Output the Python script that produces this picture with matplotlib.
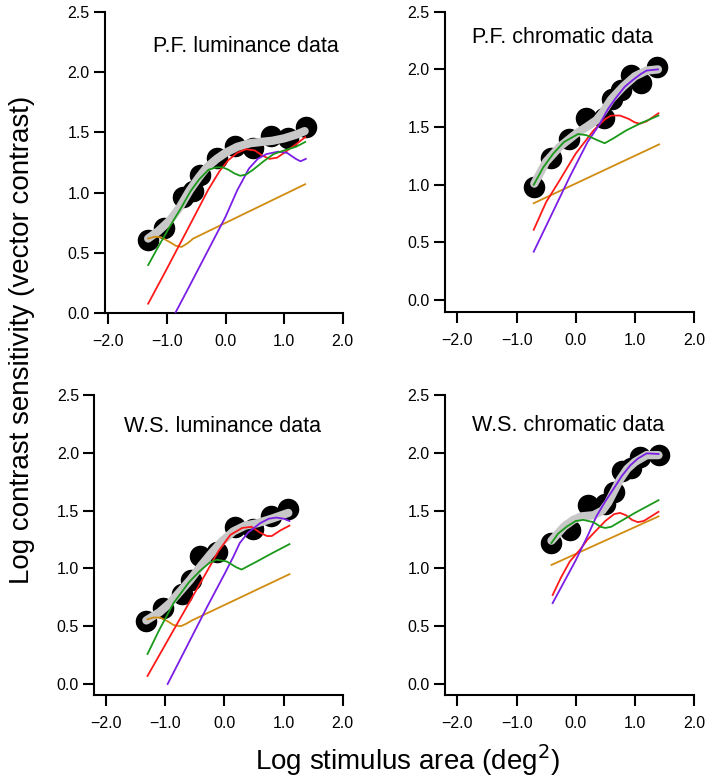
import matplotlib
matplotlib.use('Agg')
from matplotlib import pyplot as plt

plt.rcParams['font.family'] = ['Liberation Sans', 'DejaVu Sans']

# ---- P.F. luminance ----
pf_lum_x = [-1.33, -1.05, -0.72, -0.56, -0.435, -0.14, 0.16, 0.475, 0.77, 1.07, 1.37]
pf_lum_y = [0.61, 0.71, 0.96, 1.01, 1.146, 1.29, 1.386, 1.367, 1.469, 1.45, 1.546]
pf_lum_gray = ([-1.32, -1.15, -0.95, -0.78, -0.61, -0.45, -0.32, -0.15, 0.0, 0.2, 0.42, 0.6, 0.8, 1.0, 1.2, 1.35],
               [0.62, 0.68, 0.77, 0.88, 1.02, 1.13, 1.21, 1.28, 1.33, 1.38, 1.41, 1.42, 1.43, 1.45, 1.48, 1.51])
pf_lum_green = ([-1.32, -1.15, -0.95, -0.75, -0.6, -0.45, -0.29, -0.15, -0.05, 0.05, 0.15, 0.25, 0.35, 0.47, 0.65, 0.82, 1.0, 1.2, 1.36],
                [0.40, 0.55, 0.72, 0.88, 1.01, 1.11, 1.19, 1.21, 1.21, 1.19, 1.16, 1.14, 1.15, 1.19, 1.26, 1.32, 1.35, 1.38, 1.42])
pf_lum_red = ([-1.32, -1.0, -0.6, -0.3, -0.1, 0.05, 0.2, 0.35, 0.5, 0.62, 0.75, 0.88, 1.0, 1.2, 1.36],
              [0.08, 0.37, 0.74, 1.02, 1.18, 1.27, 1.33, 1.36, 1.35, 1.31, 1.28, 1.29, 1.33, 1.40, 1.46])
pf_lum_purple = ([-0.86, -0.6, -0.3, 0.0, 0.2, 0.4, 0.55, 0.7, 0.9, 1.05, 1.2, 1.28, 1.37],
                 [0.0, 0.24, 0.52, 0.80, 1.02, 1.20, 1.28, 1.32, 1.34, 1.33, 1.28, 1.26, 1.28])
pf_lum_orange = ([-1.32, -1.2, -1.1, -0.95, -0.85, -0.75, -0.65, -0.55, 1.36],
                 [0.62, 0.635, 0.63, 0.59, 0.56, 0.55, 0.58, 0.62, 1.07])

# ---- P.F. chromatic ----
pf_chr_x = [-0.71, -0.41, -0.12, 0.18, 0.47, 0.61, 0.76, 0.94, 1.11, 1.38]
pf_chr_y = [0.98, 1.23, 1.40, 1.58, 1.58, 1.74, 1.82, 1.95, 1.88, 2.02]
pf_chr_gray = ([-0.7, -0.5, -0.27, 0.0, 0.18, 0.35, 0.46, 0.6, 0.8, 1.0, 1.2, 1.39],
               [1.01, 1.2, 1.33, 1.44, 1.5, 1.56, 1.63, 1.74, 1.85, 1.94, 1.99, 2.0])
pf_chr_green = ([-0.71, -0.55, -0.38, -0.2, 0.04, 0.18, 0.35, 0.49, 0.63, 0.85, 1.085, 1.4],
                [1.0, 1.15, 1.27, 1.37, 1.44, 1.43, 1.39, 1.36, 1.40, 1.47, 1.53, 1.60])
pf_chr_red = ([-0.71, -0.5, -0.27, 0.0, 0.3, 0.5, 0.6, 0.75, 0.9, 1.0, 1.085, 1.2, 1.4],
              [0.61, 0.85, 1.04, 1.27, 1.47, 1.57, 1.60, 1.60, 1.57, 1.54, 1.53, 1.55, 1.62])
pf_chr_purple = ([-0.71, -0.4, -0.1, 0.2, 0.41, 0.55, 0.69, 0.83, 0.97, 1.1, 1.2, 1.39],
                 [0.42, 0.75, 1.07, 1.37, 1.53, 1.66, 1.76, 1.85, 1.91, 1.96, 1.99, 2.0])
pf_chr_orange = ([-0.71, 1.41], [0.84, 1.35])

# ---- W.S. luminance ----
ws_lum_x = [-1.32, -1.04, -0.72, -0.57, -0.41, -0.12, 0.18, 0.49, 0.79, 1.08]
ws_lum_y = [0.545, 0.655, 0.78, 0.90, 1.11, 1.145, 1.36, 1.34, 1.45, 1.515]
ws_lum_gray = ([-1.32, -1.1, -0.92, -0.75, -0.58, -0.4, -0.24, -0.05, 0.15, 0.35, 0.55, 0.8, 1.08],
               [0.55, 0.62, 0.70, 0.80, 0.90, 1.02, 1.12, 1.23, 1.32, 1.37, 1.39, 1.43, 1.48])
ws_lum_green = ([-1.30, -1.1, -0.86, -0.6, -0.41, -0.25, -0.13, 0.04, 0.2, 0.29, 0.4, 0.55, 0.8, 1.1],
                [0.26, 0.47, 0.70, 0.88, 0.98, 1.05, 1.075, 1.06, 1.01, 0.99, 1.02, 1.06, 1.13, 1.21])
ws_lum_red = ([-1.30, -1.0, -0.6, -0.3, -0.1, 0.1, 0.3, 0.46, 0.6, 0.72, 0.8, 0.95, 1.1],
              [0.07, 0.34, 0.70, 0.97, 1.15, 1.29, 1.35, 1.36, 1.31, 1.28, 1.28, 1.33, 1.37])
ws_lum_purple = ([-0.96, -0.6, -0.3, 0.0, 0.15, 0.26, 0.4, 0.6, 0.75, 0.88, 1.0, 1.1],
                 [0.0, 0.36, 0.66, 0.95, 1.10, 1.22, 1.31, 1.39, 1.43, 1.44, 1.43, 1.41])
ws_lum_orange = ([-1.30, -1.2, -1.09, -0.95, -0.86, -0.74, -0.65, -0.55, 1.1],
                 [0.56, 0.575, 0.575, 0.54, 0.51, 0.50, 0.52, 0.55, 0.95])

# ---- W.S. chromatic ----
ws_chr_x = [-0.41, -0.10, 0.20, 0.49, 0.64, 0.79, 0.93, 1.09, 1.40]
ws_chr_y = [1.22, 1.335, 1.545, 1.56, 1.665, 1.84, 1.87, 1.96, 1.98]
ws_chr_gray = ([-0.41, -0.2, -0.04, 0.1, 0.3, 0.45, 0.55, 0.65, 0.75, 0.87, 1.0, 1.2, 1.4],
               [1.24, 1.36, 1.42, 1.45, 1.46, 1.50, 1.57, 1.67, 1.77, 1.86, 1.92, 1.98, 1.98])
ws_chr_green = ([-0.41, -0.3, -0.156, 0.0, 0.125, 0.3, 0.42, 0.5, 0.6, 0.7, 1.0, 1.4],
                [1.22, 1.30, 1.36, 1.41, 1.42, 1.40, 1.36, 1.35, 1.36, 1.39, 1.48, 1.59])
ws_chr_red = ([-0.39, -0.25, -0.1, 0.07, 0.2, 0.35, 0.5, 0.65, 0.75, 0.85, 0.95, 1.05, 1.15, 1.4],
              [0.77, 0.92, 1.06, 1.16, 1.25, 1.33, 1.41, 1.47, 1.48, 1.46, 1.42, 1.40, 1.41, 1.49])
ws_chr_purple = ([-0.39, -0.2, 0.0, 0.2, 0.35, 0.5, 0.63, 0.78, 0.92, 1.05, 1.2, 1.4],
                 [0.70, 0.88, 1.07, 1.28, 1.45, 1.58, 1.68, 1.80, 1.89, 1.95, 1.995, 1.99])
ws_chr_orange = ([-0.41, 1.4], [1.03, 1.45])

panels = [
    ('P.F. luminance data', pf_lum_x, pf_lum_y, pf_lum_gray, pf_lum_orange, pf_lum_red, pf_lum_purple, pf_lum_green),
    ('P.F. chromatic data', pf_chr_x, pf_chr_y, pf_chr_gray, pf_chr_orange, pf_chr_red, pf_chr_purple, pf_chr_green),
    ('W.S. luminance data', ws_lum_x, ws_lum_y, ws_lum_gray, ws_lum_orange, ws_lum_red, ws_lum_purple, ws_lum_green),
    ('W.S. chromatic data', ws_chr_x, ws_chr_y, ws_chr_gray, ws_chr_orange, ws_chr_red, ws_chr_purple, ws_chr_green),
]

W, H = 710, 783
# pixel boxes: left, top, right, bottom
boxes = [(105, 11.7, 342.7, 313.3), (445, 11.7, 694, 311.7),
         (94.3, 395, 342.7, 695), (445, 395, 694, 695)]
xlims = [(-2.057, 2.0), (-2.21, 2.0), (-2.2, 2.0), (-2.21, 2.0)]
ylims = [(0.0, 2.5), (-0.1, 2.5), (-0.095, 2.5), (-0.095, 2.5)]
title_pos = [(0.35, 2.215), (-0.22, 2.28), (-0.04, 2.23), (-0.13, 2.24)]

fig = plt.figure(figsize=(W / 100, H / 100), dpi=100)

for i, (title, dx, dy, gray, orange, red, purple, green) in enumerate(panels):
    l, t, r, b = boxes[i]
    ax = fig.add_axes([l / W, 1 - b / H, (r - l) / W, (b - t) / H])
    ax.plot(dx, dy, 'o', color='black', markersize=14.5, zorder=2)
    ax.plot(gray[0], gray[1], color='#c8c8c8', lw=6, solid_capstyle='round', zorder=3)
    ax.plot(orange[0], orange[1], color='#d08c10', lw=1.3, zorder=4)
    ax.plot(red[0], red[1], color='#ff1a1a', lw=1.3, zorder=4)
    ax.plot(purple[0], purple[1], color='#7a1ee6', lw=1.3, zorder=4)
    ax.plot(green[0], green[1], color='#1a991a', lw=1.3, zorder=4)
    ax.text(title_pos[i][0], title_pos[i][1], title, ha='center', va='center', fontsize=15.5)

    ax.set_xlim(*xlims[i])
    ax.set_ylim(*ylims[i])
    ax.set_xticks([-2, -1, 0, 1, 2])
    ax.set_xticklabels(['\u22122.0', '\u22121.0', '0.0', '1.0', '2.0'])
    ax.set_yticks([0, 0.5, 1.0, 1.5, 2.0, 2.5])
    ax.set_yticklabels(['0.0', '0.5', '1.0', '1.5', '2.0', '2.5'])
    ax.spines['top'].set_visible(False)
    ax.spines['right'].set_visible(False)
    ax.spines['left'].set_linewidth(1.5)
    ax.spines['bottom'].set_linewidth(1.5)
    ax.tick_params(axis='both', direction='out', length=8, width=1.5, labelsize=11.5)
    ax.tick_params(axis='x', pad=7)
    ax.tick_params(axis='y', pad=3)

fig.text(22 / W, 1 - 340 / H, 'Log contrast sensitivity (vector contrast)',
         rotation=90, ha='center', va='center', fontsize=20)
fig.text(408 / W, 1 - 760 / H, 'Log stimulus area (deg$^2$)',
         ha='center', va='center', fontsize=20)

fig.savefig('out.png', dpi=100)
